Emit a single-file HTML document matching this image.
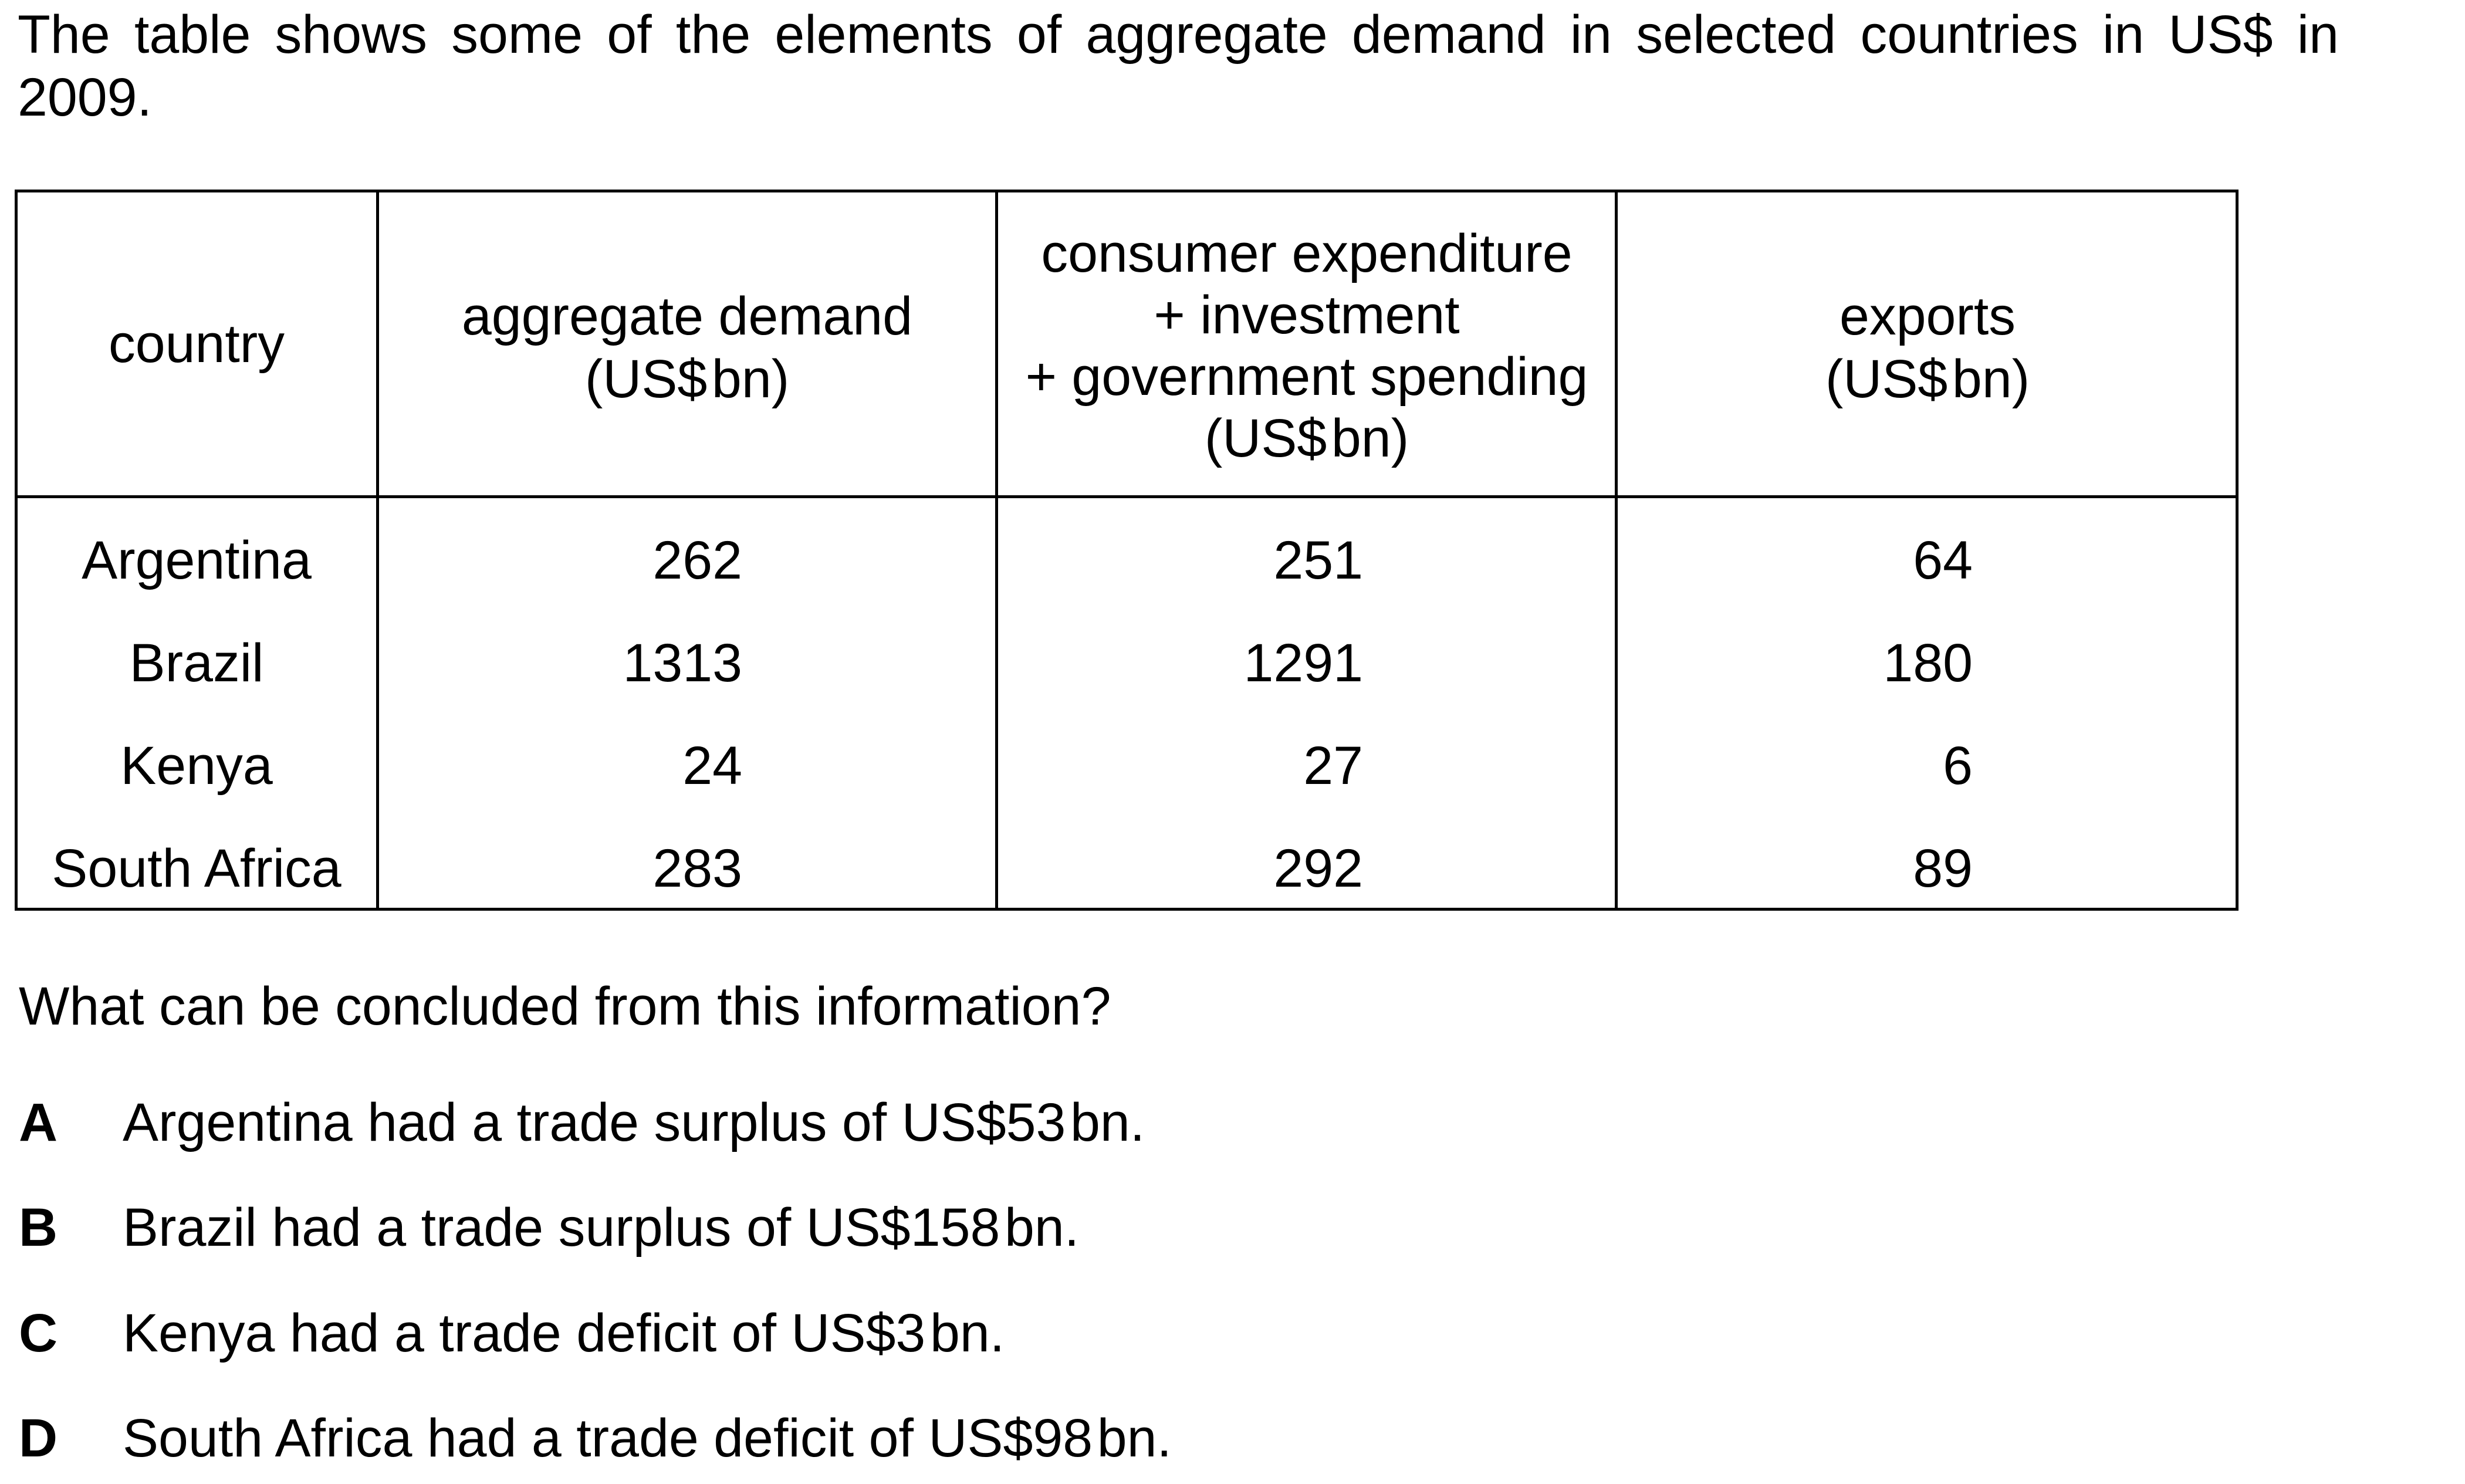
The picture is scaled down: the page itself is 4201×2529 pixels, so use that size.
<!DOCTYPE html>
<html><head><meta charset="utf-8">
<style>
html,body{margin:0;padding:0;background:#fff;}
body{width:4201px;height:2529px;position:relative;overflow:hidden;font-family:"Liberation Sans",Arial,sans-serif;color:#000;}
.t{position:absolute;font-size:91.5px;line-height:99px;white-space:nowrap;}
.c{transform:translateX(-50%);text-align:center;}
.r{transform:translateX(-100%);text-align:right;}
.ln{position:absolute;background:#000;}
</style></head>
<body>
<div class="t" style="left:30px;top:10px;width:3956px;text-align:justify;text-align-last:justify;">The table shows some of the elements of aggregate demand in selected countries in US$ in</div>
<div class="t" style="left:30px;top:117px;">2009.</div>

<div id="table">
<div class="ln" style="left:25px;top:323px;width:3790px;height:5px;"></div>
<div class="ln" style="left:25px;top:844px;width:3790px;height:5px;"></div>
<div class="ln" style="left:25px;top:1547px;width:3790px;height:5px;"></div>
<div class="ln" style="left:25px;top:323px;width:5px;height:1229px;"></div>
<div class="ln" style="left:641px;top:323px;width:5px;height:1229px;"></div>
<div class="ln" style="left:1696px;top:323px;width:5px;height:1229px;"></div>
<div class="ln" style="left:2752px;top:323px;width:5px;height:1229px;"></div>
<div class="ln" style="left:3810px;top:323px;width:5px;height:1229px;"></div>

<div class="t c" style="left:335px;top:537px;">country</div>
<div class="t c" style="left:1171px;top:486px;line-height:107px;">aggregate demand<br>(US$&#8202;bn)</div>
<div class="t c" style="left:2227px;top:380px;line-height:105px;">consumer expenditure<br>+ investment<br>+ government spending<br>(US$&#8202;bn)</div>
<div class="t c" style="left:3285px;top:486px;line-height:107px;">exports<br>(US$&#8202;bn)</div>
</div>

<div class="t" style="left:32px;top:1666px;">What can be concluded from this information?</div>

<div class="t" style="left:32px;top:1864px;font-weight:bold;">A</div>
<div class="t" style="left:209px;top:1864px;">Argentina had a trade surplus of US$53&#8202;bn.</div>
<div class="t" style="left:32px;top:2043px;font-weight:bold;">B</div>
<div class="t" style="left:209px;top:2043px;">Brazil had a trade surplus of US$158&#8202;bn.</div>
<div class="t" style="left:32px;top:2223px;font-weight:bold;">C</div>
<div class="t" style="left:209px;top:2223px;">Kenya had a trade deficit of US$3&#8202;bn.</div>
<div class="t" style="left:32px;top:2402px;font-weight:bold;">D</div>
<div class="t" style="left:209px;top:2402px;">South Africa had a trade deficit of US$98&#8202;bn.</div>

<script>
const countries = ["Argentina", "Brazil", "Kenya", "South Africa"];
const aggregateDemand = [262, 1313, 24, 283];
const cigSpending = [251, 1291, 27, 292];
const exportsVals = [64, 180, 6, 89];
const tbl = document.getElementById('table');
const rowTop0 = 906, rowStep = 175;
function cell(text, cls, left, top, name) {
  const d = document.createElement('div');
  d.className = 't ' + cls;
  d.style.left = left + 'px';
  d.style.top = top + 'px';
  d.textContent = text;
  
  
  tbl.appendChild(d);
}
countries.forEach((c, i) => {
  const top = rowTop0 + i * rowStep;
  const key = c.toLowerCase().replace(/\s+/g, '-');
  cell(c, 'c', 335, top, 'country-' + key);
  cell(String(aggregateDemand[i]), 'r', 1265, top, 'aggregate-demand-' + key);
  cell(String(cigSpending[i]), 'r', 2323, top, 'cig-spending-' + key);
  cell(String(exportsVals[i]), 'r', 3362, top, 'exports-' + key);
});
</script>
</body></html>
